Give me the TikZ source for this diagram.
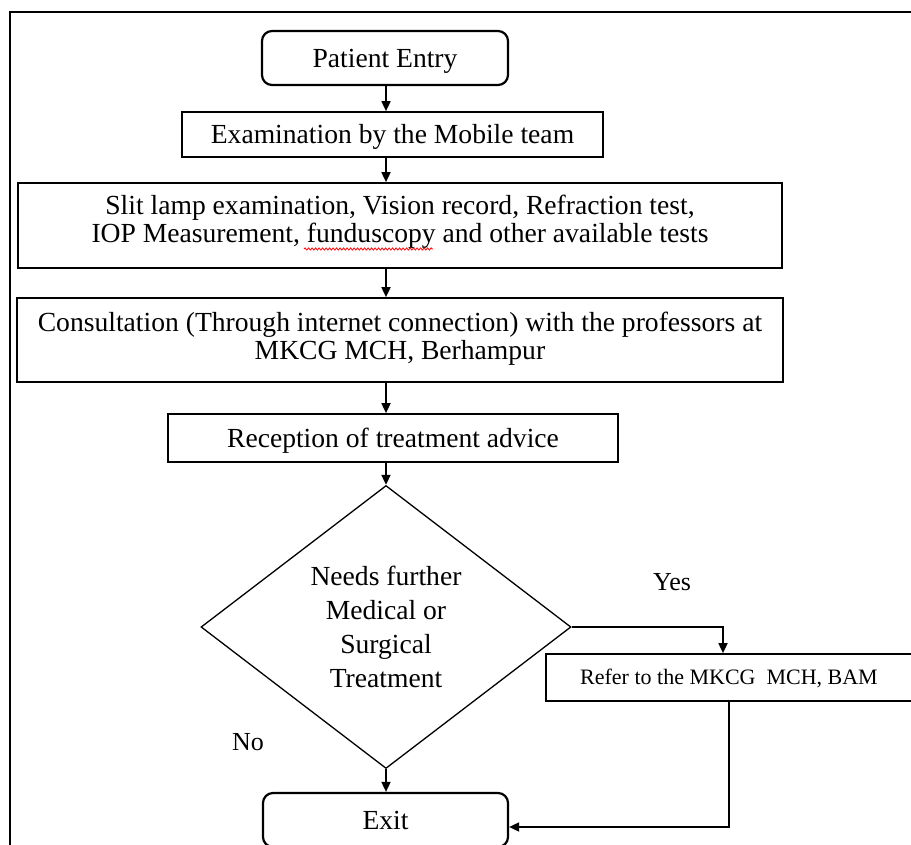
\documentclass[tikz,border=0pt]{standalone}
\usepackage{fontspec}
\setmainfont{Liberation Serif}
\usetikzlibrary{shapes.geometric,arrows.meta,decorations.pathmorphing}
\begin{document}
\begin{tikzpicture}[x=1pt,y=-1pt,
  font=\fontsize{27.6}{28}\selectfont,
  box/.style={draw, line width=1.7pt, inner sep=0pt, text height=18.3pt, text depth=0pt, align=center},
  term/.style={box, rounded corners=10pt, line width=2.2pt},
  decision/.style={draw, diamond, line width=1.3pt, inner sep=0pt, aspect=1.31, align=center,
     font=\fontsize{27.6}{34}\selectfont, text height=120.3pt, text depth=0pt},
  lbl/.style={inner sep=0pt, font=\fontsize{26}{28}\selectfont, text height=17.2pt, text depth=0pt},
  arr/.style={line width=1.7pt, -{Triangle[length=10pt,width=9pt]}},
  frame/.style={line width=2.5pt},
  spell/.style={red, line width=0.8pt, decorate, decoration={snake, amplitude=1.1pt, segment length=3.5pt}}
]
\useasboundingbox (0,0) rectangle (911,845);
\draw[frame] (10,12) rectangle (960,900);

\node[term, minimum width=246pt, minimum height=54pt] (pe) at (385,58) {Patient Entry};
\node[box, minimum width=421pt, minimum height=45pt] (ex) at (392.5,134.5) {Examination by the Mobile team};
\node[box, minimum width=764pt, minimum height=85pt, text height=46.3pt, text depth=13pt] (sl) at (400,225.5)
  {Slit lamp examination, Vision record, Refraction test,\\ IOP Measurement, funduscopy and other available tests};
\node[box, minimum width=766pt, minimum height=84pt, text height=46.3pt, text depth=8pt] (co) at (400,340)
  {Consultation (Through internet connection) with the professors at\\ MKCG MCH, Berhampur};
\node[box, minimum width=450pt, minimum height=48pt] (re) at (393,438) {Reception of treatment advice};
\node[decision, minimum width=370pt, minimum height=283pt] (di) at (386,627)
  {Needs further\\ Medical or\\ Surgical\\ Treatment};
\node[box, minimum width=366pt, minimum height=47pt, font=\fontsize{22}{24}\selectfont, text height=14.6pt] (rf) at (729,677.5)
  {Refer to the MKCG~ MCH, BAM};
\node[term, minimum width=245pt, minimum height=54pt] (xt) at (385.5,820) {Exit};

\node[lbl] (yes) at (672,582) {Yes};
\node[lbl] (no) at (248,742) {No};

\draw[spell] (304,249) -- (433,249);

\coordinate (ax) at (386,0);
\draw[arr] (ax |- pe.south) -- (ax |- ex.north);
\draw[arr] (ax |- ex.south) -- (ax |- sl.north);
\draw[arr] (ax |- sl.south) -- (ax |- co.north);
\draw[arr] (ax |- co.south) -- (ax |- re.north);
\draw[arr] (ax |- re.south) -- (di.north);
\draw[arr] (di.south) -- (di.south |- xt.north);
\draw[arr] (di.east) -| ([xshift=-6pt]rf.north);
\draw[arr] (rf.south) |- ([yshift=-7pt]xt.east);
\end{tikzpicture}
\end{document}
